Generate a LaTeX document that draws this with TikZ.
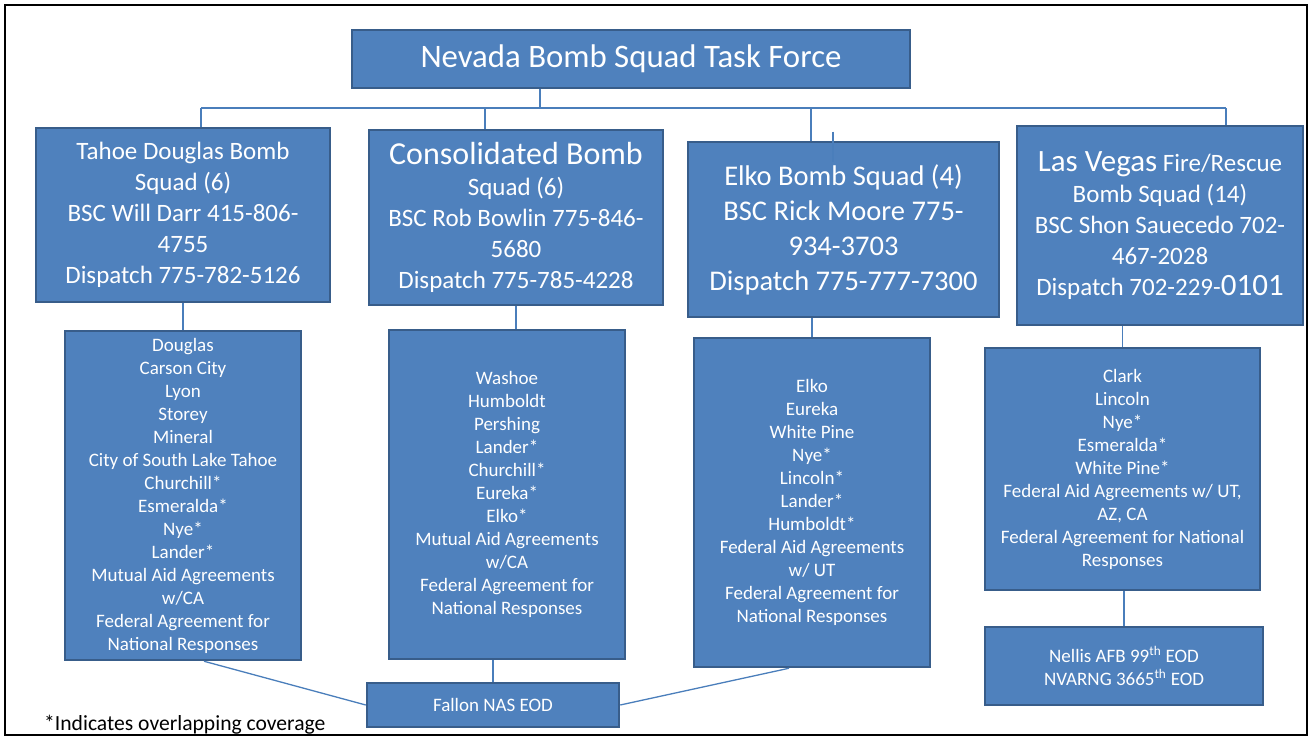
\documentclass[tikz,border=0pt]{standalone}
\usepackage{fontspec}
\setmainfont{Carlito}
\definecolor{squadblue}{HTML}{4F81BD}
\definecolor{squadedge}{HTML}{385D8A}
\definecolor{linkblue}{HTML}{4A7EBB}

\begin{document}
\begin{tikzpicture}[x=1pt,y=-1pt,
  unit/.style={draw=squadedge,line width=2.5pt,fill=squadblue,text=white,align=center,inner sep=0pt},
  squad/.style={unit,font=\fontsize{25}{31}\selectfont},
  county/.style={unit,font=\fontsize{19}{23}\selectfont,minimum width=236pt,minimum height=329pt},
  conn/.style={linkblue,line width=1.3pt}]
  \useasboundingbox (0,0) rectangle (1312,738);
  \draw[line width=2.5pt] (5,5) rectangle (1307,735);

  \node[unit,minimum width=558pt,minimum height=58pt,font=\fontsize{32.8}{39}\selectfont] (top) at (631,59) {Nevada Bomb Squad Task Force};

  % squads
  \node[squad,minimum width=294pt,minimum height=174pt] (tahoe) at (183,215)
    {Tahoe Douglas Bomb\\Squad (6)\\BSC Will Darr 415-806-\\4755\\Dispatch 775-782-5126};
  \node[squad,minimum width=294pt,minimum height=175pt] (consol) at (516,217.5)
    {{\fontsize{32}{39}\selectfont Consolidated Bomb}\\Squad (6)\\BSC Rob Bowlin 775-846-\\5680\\Dispatch 775-785-4228};
  \node[squad,minimum width=311pt,minimum height=175pt,font=\fontsize{28.5}{35}\selectfont] (elko) at (843.5,229.5)
    {Elko Bomb Squad (4)\\BSC Rick Moore 775-\\934-3703\\Dispatch 775-777-7300};
  \node[squad,minimum width=286pt,minimum height=199pt] (vegas) at (1160,225.5)
    {{\fontsize{31}{38}\selectfont Las Vegas} Fire/Rescue\\Bomb Squad (14)\\BSC Shon Sauecedo 702-\\467-2028\\Dispatch 702-229-{\fontsize{31}{38}\selectfont 0101}};

  % counties covered
  \node[county] (tahoelist) at (183,495.5)
    {Douglas\\Carson City\\Lyon\\Storey\\Mineral\\City of South Lake Tahoe\\Churchill*\\Esmeralda*\\Nye*\\Lander*\\Mutual Aid Agreements\\w/CA\\Federal Agreement for\\National Responses};
  \node[county] (consollist) at (507,494.5)
    {Washoe\\Humboldt\\Pershing\\Lander*\\Churchill*\\Eureka*\\Elko*\\Mutual Aid Agreements\\w/CA\\Federal Agreement for\\National Responses};
  \node[county] (elkolist) at (812,502.5)
    {Elko\\Eureka\\White Pine\\Nye*\\Lincoln*\\Lander*\\Humboldt*\\Federal Aid Agreements\\w/ UT\\Federal Agreement for\\National Responses};
  \node[county,minimum width=275pt,minimum height=242pt] (vegaslist) at (1122.5,469)
    {Clark\\Lincoln\\Nye*\\Esmeralda*\\White Pine*\\Federal Aid Agreements w/ UT,\\AZ, CA\\Federal Agreement for National\\Responses};

  % military EOD
  \node[unit,minimum width=252pt,minimum height=44pt,font=\fontsize{19}{23}\selectfont] (fallon) at (493,705) {Fallon NAS EOD};
  \node[unit,minimum width=278pt,minimum height=78pt,font=\fontsize{19}{23}\selectfont] (nellis) at (1124,666)
    {Nellis AFB 99\textsuperscript{th} EOD\\NVARNG 3665\textsuperscript{th} EOD};

  \node[anchor=base west,inner sep=0pt,font=\fontsize{21.6}{26}\selectfont] (note) at (44,730) {*Indicates overlapping coverage};

  % bus from the task force
  \coordinate (bus) at (0,108);
  \coordinate (t0) at ([xshift=-91pt]top.south);
  \coordinate (d1) at ([xshift=18pt]tahoe.north);
  \coordinate (d2) at ([xshift=-31pt]consol.north);
  \coordinate (d3) at ([xshift=-32.5pt]elko.north);
  \coordinate (d4) at ([xshift=66pt]vegas.north);
  \draw[conn] (t0) -- (t0 |- bus);
  \draw[conn] (d1 |- bus) -- (d4 |- bus);
  \foreach \d in {d1,d2,d3,d4}
    \draw[conn] (\d) -- (\d |- bus);
  \coordinate (stray) at ([xshift=-10.5pt,yshift=9pt]elko.north);
  \draw[conn] (stray) -- ++(0,30);

  \draw[conn] (tahoe.south) -- (tahoelist.north);
  \draw[conn] (consol.south) -- (consol.south |- consollist.north);
  \draw[conn] (elkolist.north) -- (elkolist.north |- elko.south);
  \draw[conn] (vegaslist.north) -- (vegaslist.north |- vegas.south);
  \draw[conn] (nellis.north) -- (nellis.north |- vegaslist.south);
  \draw[conn] (fallon.north) -- (fallon.north |- consollist.south);
  \draw[conn] ([xshift=21pt]tahoelist.south) -- (fallon.west);
  \draw[conn] (fallon.east) -- ([xshift=-23pt]elkolist.south);
\end{tikzpicture}
\end{document}
